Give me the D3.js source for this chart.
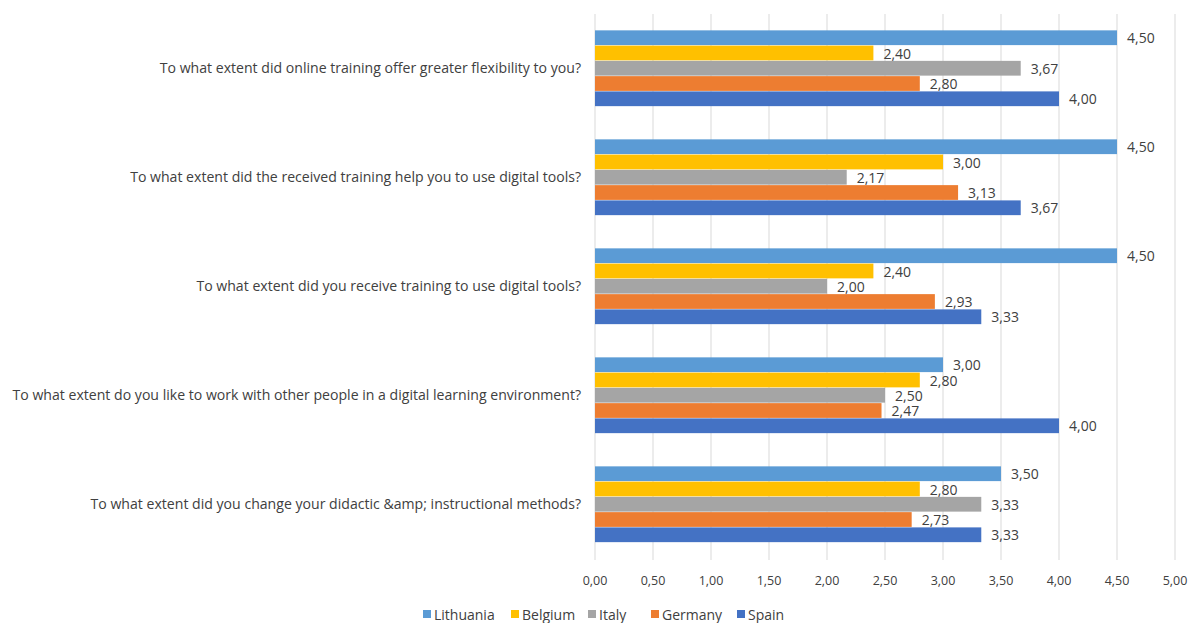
<!DOCTYPE html>
<html>
<head>
<meta charset="utf-8">
<script src="https://cdn.jsdelivr.net/npm/d3@7"></script>
<style>
	body { margin: 0; background: #fff; }
	text { font-family: "Open Sans", "Liberation Sans", sans-serif; fill: #404040; }
</style>
</head>
<body>
<svg id="plot" width="1192" height="623"></svg>
<script>

const QUESTIONS = [
	'To what extent did online training offer greater flexibility to you?',
	'To what extent did the received training help you to use digital tools?',
	'To what extent did you receive training to use digital tools?',
	'To what extent do you like to work with other people in a digital learning environment?',
	'To what extent did you change your didactic &amp; instructional methods?'
];
const COUNTRIES = ['Lithuania', 'Belgium', 'Italy', 'Germany', 'Spain'];
const COLORS = ['#5B9BD5', '#FFC000', '#A5A5A5', '#ED7D31', '#4472C4'];

// one array per country, in question order
const LITHUANIA = [4.50, 4.50, 4.50, 3.00, 3.50];
const BELGIUM   = [2.40, 3.00, 2.40, 2.80, 2.80];
const ITALY     = [3.67, 2.17, 2.00, 2.50, 3.33];
const GERMANY   = [2.80, 3.13, 2.93, 2.47, 2.73];
const SPAIN     = [4.00, 3.67, 3.33, 4.00, 3.33];

const X_TICKS = [0, 0.5, 1, 1.5, 2, 2.5, 3, 3.5, 4, 4.5, 5];

const SERIES = [LITHUANIA, BELGIUM, ITALY, GERMANY, SPAIN];

const data = [];
QUESTIONS.forEach((q, i) => {
	COUNTRIES.forEach((c, j) => {
		data.push({q: q, country: c, value: SERIES[j][i], color: COLORS[j]});
	});
});

const fmt = v => v.toFixed(2).replace('.', ',');

const svg = d3.select('#plot');

const x = d3.scaleLinear().domain([0, 5]).range([595, 1175]);
const y0 = d3.scaleBand().domain(QUESTIONS).range([14, 559])
	.paddingInner(0.3).paddingOuter(0.15);
const y1 = d3.scaleBand().domain(COUNTRIES).range([0, y0.bandwidth()]);

// gridlines
svg.append('g').selectAll('line')
	.data(X_TICKS)
	.enter().append('line')
	.attr('x1', d => x(d)).attr('x2', d => x(d))
	.attr('y1', 14).attr('y2', 560)
	.style('stroke', '#d9d9d9')
	.style('stroke-width', 1);

// x tick labels
svg.append('g').selectAll('text')
	.data(X_TICKS)
	.enter().append('text')
	.attr('x', d => x(d))
	.attr('y', 585)
	.attr('text-anchor', 'middle')
	.style('font-size', '12.5px')
	.text(d => fmt(d));

// bars
svg.append('g').selectAll('rect')
	.data(data)
	.enter().append('rect')
	.attr('x', x(0))
	.attr('y', d => y0(d.q) + y1(d.country))
	.attr('height', y1.bandwidth() - 0.5)
	.attr('width', d => x(d.value) - x(0))
	.style('fill', d => d.color);

// value labels
svg.append('g').selectAll('text')
	.data(data)
	.enter().append('text')
	.attr('x', d => x(d.value) + 10)
	.attr('y', d => y0(d.q) + y1(d.country) + y1.bandwidth() / 2)
	.attr('dy', '0.38em')
	.style('font-size', '14px')
	.text(d => fmt(d.value));

// category labels
svg.append('g').selectAll('text')
	.data(QUESTIONS)
	.enter().append('text')
	.attr('x', 581)
	.attr('y', d => y0(d) + y0.bandwidth() / 2)
	.attr('dy', '0.35em')
	.attr('text-anchor', 'end')
	.style('font-size', '14.1px')
	.text(d => d);

// legend
const LEGEND_X = [423, 511, 588, 651, 737];
const legend = svg.append('g').selectAll('g')
	.data(COUNTRIES)
	.enter().append('g')
	.attr('transform', (d, i) => 'translate(' + LEGEND_X[i] + ',615)');
legend.append('rect')
	.attr('x', 0).attr('y', -5)
	.attr('width', 8).attr('height', 8)
	.style('fill', (d, i) => COLORS[i]);
legend.append('text')
	.attr('x', 11).attr('y', 0)
	.attr('dy', '0.35em')
	.style('font-size', '14px')
	.text(d => d);

</script>
</body>
</html>
